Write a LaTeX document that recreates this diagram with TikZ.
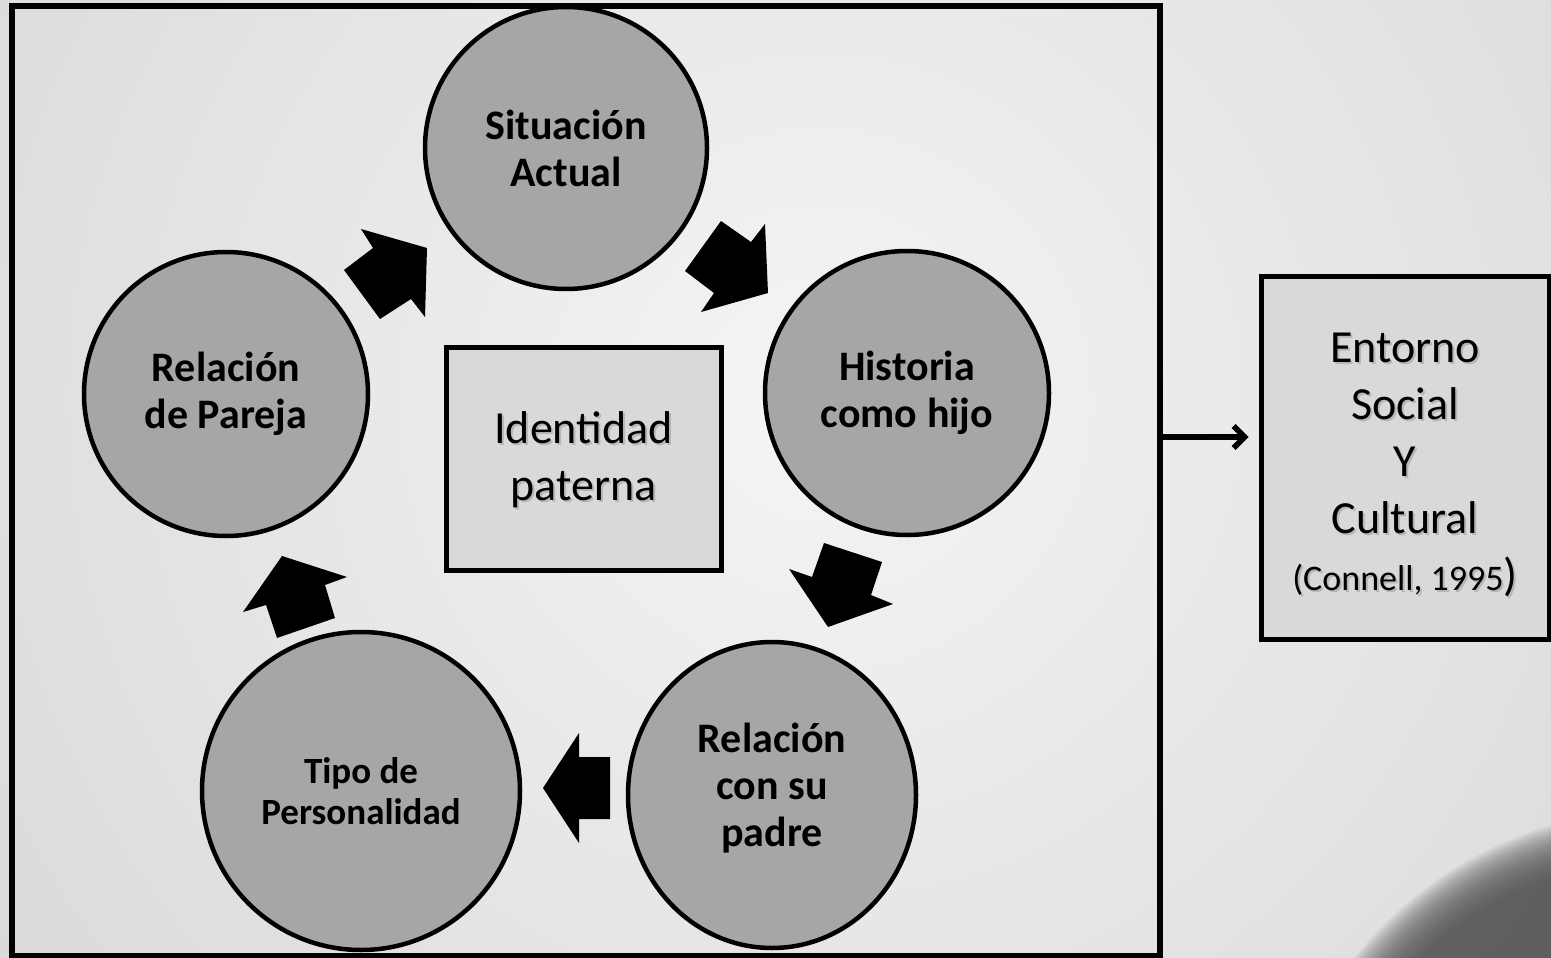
\documentclass[tikz,border=0pt]{standalone}
\usepackage{fontspec}
\setmainfont{Carlito}
\usetikzlibrary{arrows.meta,shapes.geometric}
\definecolor{bgin}{gray}{0.96}
\definecolor{bgout}{gray}{0.77}
\definecolor{circfill}{RGB}{166,166,166}
\definecolor{boxfill}{RGB}{217,217,217}
\definecolor{blob}{RGB}{85,85,85}
\tikzset{
  circ/.style={circle, draw=black, line width=4.5pt, fill=circfill, align=center,
    font=\fontsize{42}{47}\selectfont\bfseries, inner sep=0pt},
  ell/.style={ellipse, draw=black, line width=4.5pt, fill=circfill, inner sep=0pt},
  ctext/.style={align=center, inner sep=0pt, font=\fontsize{42}{47}\selectfont\bfseries},
  pbox/.style={rectangle, draw=black, line width=5pt, fill=boxfill, inner sep=0pt},
  btext/.style={align=center, inner sep=0pt, font=\fontsize{46}{57}\selectfont},
  shtext/.style={btext, text=black, text opacity=0.16},
  blockarrow/.style={fill=black},
  frm/.style={draw=black, line width=5.5pt, inner sep=0pt},
  conn/.style={line width=5.5pt, -{Straight Barb[length=11pt,width=22pt]}}
}
\begin{document}
\begin{tikzpicture}[x=1pt,y=-1pt]
\useasboundingbox (0,0) rectangle (1551,958);
\begin{scope}
  \clip (0,0) rectangle (1551,958);
  \shade[inner color=bgin, outer color=bgout] (820,400) circle (1800pt);
  \foreach \r in {340,342,...,390}
    \fill[blob, opacity=0.08] (1660,1200) circle (\r pt);
\end{scope}

% outer frame
\node[frm, minimum width=1148pt, minimum height=950pt] (frame) at (586,481) {};

% circles
\node[circ, minimum size=282pt] (sa) at (566,148) {Situación\\Actual};
\node[circ, minimum size=284pt] (hh) at (907,393) {Historia\\como hijo};
\node[ell, minimum width=288pt, minimum height=306pt] (rs) at (772,795) {};
\node[ctext] (rst) at (772,788) {Relación\\con su\\padre};
\node[circ, minimum size=318pt, font=\fontsize{37}{41}\selectfont\bfseries] (tp) at (361,791) {Tipo de\\Personalidad};
\node[circ, minimum size=284pt] (rp) at (226,394) {Relación\\de Pareja};

% block arrows
\fill[blockarrow] (721,221) -- (751,242) -- (765,224) -- (768,293) -- (701,312) -- (714,293) -- (685,271) -- cycle;
\fill[blockarrow] (824,543) -- (882,562) -- (871,595) -- (893,604) -- (828,627) -- (789,569) -- (812,577) -- cycle;
\fill[blockarrow] (610,757) -- (579,757) -- (579,733) -- (543,788) -- (579,843) -- (579,819) -- (610,819) -- cycle;
\fill[blockarrow] (282,556) -- (347,577) -- (325,585) -- (335,618) -- (277,638) -- (266,605) -- (243,612) -- cycle;
\fill[blockarrow] (361,229) -- (427,248) -- (425,317) -- (411,299) -- (380,319) -- (344,270) -- (373,248) -- cycle;

% center box
\node[pbox, minimum width=275pt, minimum height=223pt] (id) at (583.5,458.5) {};
\node[shtext] (idsh) at (585.5,462) {Identidad\\paterna};
\node[btext] (idt) at (583.5,460) {Identidad\\paterna};

% right box
\node[pbox, minimum width=288pt, minimum height=363pt] (ent) at (1405,457.5) {};
\node[shtext] (entsh) at (1407,467) {Entorno\\Social\\Y\\Cultural\\{\fontsize{36}{57}\selectfont(Connell, 1995})};
\node[btext] (entt) at (1405,465) {Entorno\\Social\\Y\\Cultural\\{\fontsize{36}{57}\selectfont(Connell, 1995})};

% connector
\coordinate (fr) at (1160,437);
\draw[conn, shorten >=10pt] (fr) -- (ent.west |- fr);
\end{tikzpicture}
\end{document}
